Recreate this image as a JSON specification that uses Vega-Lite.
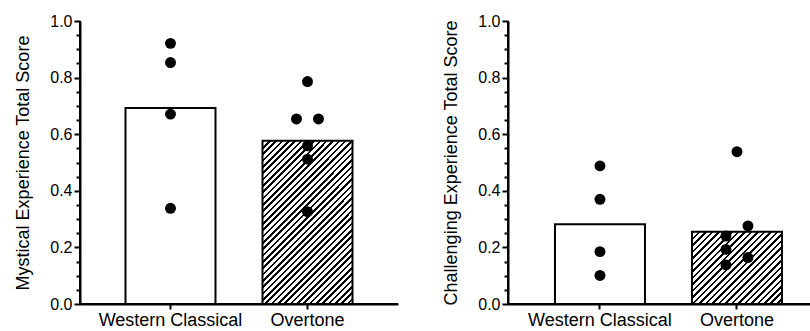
{
  "$schema": "https://vega.github.io/schema/vega-lite/v6.json",
  "background": "white",
  "padding": {"left": 13, "top": 12, "right": 5, "bottom": 0},
  "spacing": 42,
  "config": {
    "font": "Liberation Sans",
    "axis": {"domain": true, "ticks": true, "domainColor": "black", "domainWidth": 2, "tickColor": "black", "tickWidth": 2, "labelColor": "black", "titleColor": "black", "labelFont": "Liberation Sans", "titleFont": "Liberation Sans", "grid": false, "titleFontWeight": "normal"}
  },
  "datasets": {
    "bars": [
      {"panel": "Mystical", "group": "Western Classical", "value": 0.693},
      {"panel": "Mystical", "group": "Overtone", "value": 0.577},
      {"panel": "Challenging", "group": "Western Classical", "value": 0.282},
      {"panel": "Challenging", "group": "Overtone", "value": 0.255}
    ],
    "points": [
      {"panel": "Mystical", "group": "Western Classical", "lane": "C", "value": 0.921},
      {"panel": "Mystical", "group": "Western Classical", "lane": "C", "value": 0.853},
      {"panel": "Mystical", "group": "Western Classical", "lane": "C", "value": 0.671},
      {"panel": "Mystical", "group": "Western Classical", "lane": "C", "value": 0.338},
      {"panel": "Mystical", "group": "Overtone", "lane": "C", "value": 0.786},
      {"panel": "Mystical", "group": "Overtone", "lane": "L", "value": 0.654},
      {"panel": "Mystical", "group": "Overtone", "lane": "R", "value": 0.654},
      {"panel": "Mystical", "group": "Overtone", "lane": "C", "value": 0.559},
      {"panel": "Mystical", "group": "Overtone", "lane": "C", "value": 0.512},
      {"panel": "Mystical", "group": "Overtone", "lane": "C", "value": 0.326},
      {"panel": "Challenging", "group": "Western Classical", "lane": "C", "value": 0.488},
      {"panel": "Challenging", "group": "Western Classical", "lane": "C", "value": 0.370},
      {"panel": "Challenging", "group": "Western Classical", "lane": "C", "value": 0.185},
      {"panel": "Challenging", "group": "Western Classical", "lane": "C", "value": 0.101},
      {"panel": "Challenging", "group": "Overtone", "lane": "C", "value": 0.538},
      {"panel": "Challenging", "group": "Overtone", "lane": "R", "value": 0.276},
      {"panel": "Challenging", "group": "Overtone", "lane": "L", "value": 0.240},
      {"panel": "Challenging", "group": "Overtone", "lane": "L", "value": 0.193},
      {"panel": "Challenging", "group": "Overtone", "lane": "R", "value": 0.164},
      {"panel": "Challenging", "group": "Overtone", "lane": "L", "value": 0.138}
    ]
  },
  "hconcat": [
    {
      "width": 318,
      "height": 283,
      "view": {"stroke": "black", "strokeWidth": 2, "strokeDash": [0, 601, 601, 0], "fill": null},
      "encoding": {
        "x": {"field": "group", "type": "nominal", "scale": {"domain": ["Western Classical", "Overtone"], "paddingInner": 0.343, "paddingOuter": 0.332},
          "axis": {"title": null, "labelAngle": 0, "domain": true, "ticks": true, "domainColor": "black", "domainWidth": 2, "tickColor": "black", "tickWidth": 2, "tickSize": 5, "labelPadding": 2, "labelFontSize": 18, "labelColor": "black", "labelFont": "Liberation Sans", "grid": false}},
        "y": {"field": "value", "type": "quantitative", "scale": {"domain": [0, 1], "nice": false},
          "axis": {"title": "Mystical Experience Total Score", "titleFontSize": 18, "titleFontWeight": "normal", "titleColor": "black", "titleFont": "Liberation Sans", "titlePadding": 17,
            "domain": true, "ticks": true, "domainColor": "black", "domainWidth": 2, "tickColor": "black", "tickWidth": 2, "grid": false,
            "labelFontSize": 16, "labelPadding": 2, "labelColor": "black", "labelFont": "Liberation Sans", "labelFlush": false, "labelOverlap": false,
            "values": [0, 0.05, 0.1, 0.15, 0.2, 0.25, 0.3, 0.35, 0.4, 0.45, 0.5, 0.55, 0.6, 0.65, 0.7, 0.75, 0.8, 0.85, 0.9, 0.95, 1],
            "labelExpr": "abs(datum.value*5-round(datum.value*5))<0.001 ? format(datum.value,'.1f') : ''",
            "tickSize": {"condition": {"test": "abs(datum.value*5-round(datum.value*5))<0.001", "value": 6}, "value": 4}}}
      },
      "layer": [
        {
          "data": {"name": "bars"},
          "transform": [{"filter": "datum.panel === 'Mystical' && datum.group === 'Western Classical'"}],
          "mark": {"type": "bar", "fill": "white", "stroke": "black", "strokeWidth": 2, "size": 90, "opacity": 1}
        },
        {
          "data": {"name": "bars"},
          "transform": [{"filter": "datum.panel === 'Mystical' && datum.group === 'Overtone'"}],
          "mark": {"type": "bar", "stroke": "black", "strokeWidth": 2, "size": 90, "opacity": 1,
            "fill": {"gradient": "linear", "x1": 0, "y1": 0, "x2": 0.6568, "y2": 1.1895, "stops": [
              {"offset": 0, "color": "#000"}, {"offset": 0.01, "color": "#000"}, {"offset": 0.01, "color": "#fff"}, {"offset": 0.025, "color": "#fff"},
              {"offset": 0.025, "color": "#000"}, {"offset": 0.035, "color": "#000"}, {"offset": 0.035, "color": "#fff"}, {"offset": 0.05, "color": "#fff"},
              {"offset": 0.05, "color": "#000"}, {"offset": 0.06, "color": "#000"}, {"offset": 0.06, "color": "#fff"}, {"offset": 0.075, "color": "#fff"},
              {"offset": 0.075, "color": "#000"}, {"offset": 0.085, "color": "#000"}, {"offset": 0.085, "color": "#fff"}, {"offset": 0.1, "color": "#fff"},
              {"offset": 0.1, "color": "#000"}, {"offset": 0.11, "color": "#000"}, {"offset": 0.11, "color": "#fff"}, {"offset": 0.125, "color": "#fff"},
              {"offset": 0.125, "color": "#000"}, {"offset": 0.135, "color": "#000"}, {"offset": 0.135, "color": "#fff"}, {"offset": 0.15, "color": "#fff"},
              {"offset": 0.15, "color": "#000"}, {"offset": 0.16, "color": "#000"}, {"offset": 0.16, "color": "#fff"}, {"offset": 0.175, "color": "#fff"},
              {"offset": 0.175, "color": "#000"}, {"offset": 0.185, "color": "#000"}, {"offset": 0.185, "color": "#fff"}, {"offset": 0.2, "color": "#fff"},
              {"offset": 0.2, "color": "#000"}, {"offset": 0.21, "color": "#000"}, {"offset": 0.21, "color": "#fff"}, {"offset": 0.225, "color": "#fff"},
              {"offset": 0.225, "color": "#000"}, {"offset": 0.235, "color": "#000"}, {"offset": 0.235, "color": "#fff"}, {"offset": 0.25, "color": "#fff"},
              {"offset": 0.25, "color": "#000"}, {"offset": 0.26, "color": "#000"}, {"offset": 0.26, "color": "#fff"}, {"offset": 0.275, "color": "#fff"},
              {"offset": 0.275, "color": "#000"}, {"offset": 0.285, "color": "#000"}, {"offset": 0.285, "color": "#fff"}, {"offset": 0.3, "color": "#fff"},
              {"offset": 0.3, "color": "#000"}, {"offset": 0.31, "color": "#000"}, {"offset": 0.31, "color": "#fff"}, {"offset": 0.325, "color": "#fff"},
              {"offset": 0.325, "color": "#000"}, {"offset": 0.335, "color": "#000"}, {"offset": 0.335, "color": "#fff"}, {"offset": 0.35, "color": "#fff"},
              {"offset": 0.35, "color": "#000"}, {"offset": 0.36, "color": "#000"}, {"offset": 0.36, "color": "#fff"}, {"offset": 0.375, "color": "#fff"},
              {"offset": 0.375, "color": "#000"}, {"offset": 0.385, "color": "#000"}, {"offset": 0.385, "color": "#fff"}, {"offset": 0.4, "color": "#fff"},
              {"offset": 0.4, "color": "#000"}, {"offset": 0.41, "color": "#000"}, {"offset": 0.41, "color": "#fff"}, {"offset": 0.425, "color": "#fff"},
              {"offset": 0.425, "color": "#000"}, {"offset": 0.435, "color": "#000"}, {"offset": 0.435, "color": "#fff"}, {"offset": 0.45, "color": "#fff"},
              {"offset": 0.45, "color": "#000"}, {"offset": 0.46, "color": "#000"}, {"offset": 0.46, "color": "#fff"}, {"offset": 0.475, "color": "#fff"},
              {"offset": 0.475, "color": "#000"}, {"offset": 0.485, "color": "#000"}, {"offset": 0.485, "color": "#fff"}, {"offset": 0.5, "color": "#fff"},
              {"offset": 0.5, "color": "#000"}, {"offset": 0.51, "color": "#000"}, {"offset": 0.51, "color": "#fff"}, {"offset": 0.525, "color": "#fff"},
              {"offset": 0.525, "color": "#000"}, {"offset": 0.535, "color": "#000"}, {"offset": 0.535, "color": "#fff"}, {"offset": 0.55, "color": "#fff"},
              {"offset": 0.55, "color": "#000"}, {"offset": 0.56, "color": "#000"}, {"offset": 0.56, "color": "#fff"}, {"offset": 0.575, "color": "#fff"},
              {"offset": 0.575, "color": "#000"}, {"offset": 0.585, "color": "#000"}, {"offset": 0.585, "color": "#fff"}, {"offset": 0.6, "color": "#fff"},
              {"offset": 0.6, "color": "#000"}, {"offset": 0.61, "color": "#000"}, {"offset": 0.61, "color": "#fff"}, {"offset": 0.625, "color": "#fff"},
              {"offset": 0.625, "color": "#000"}, {"offset": 0.635, "color": "#000"}, {"offset": 0.635, "color": "#fff"}, {"offset": 0.65, "color": "#fff"},
              {"offset": 0.65, "color": "#000"}, {"offset": 0.66, "color": "#000"}, {"offset": 0.66, "color": "#fff"}, {"offset": 0.675, "color": "#fff"},
              {"offset": 0.675, "color": "#000"}, {"offset": 0.685, "color": "#000"}, {"offset": 0.685, "color": "#fff"}, {"offset": 0.7, "color": "#fff"},
              {"offset": 0.7, "color": "#000"}, {"offset": 0.71, "color": "#000"}, {"offset": 0.71, "color": "#fff"}, {"offset": 0.725, "color": "#fff"},
              {"offset": 0.725, "color": "#000"}, {"offset": 0.735, "color": "#000"}, {"offset": 0.735, "color": "#fff"}, {"offset": 0.75, "color": "#fff"},
              {"offset": 0.75, "color": "#000"}, {"offset": 0.76, "color": "#000"}, {"offset": 0.76, "color": "#fff"}, {"offset": 0.775, "color": "#fff"},
              {"offset": 0.775, "color": "#000"}, {"offset": 0.785, "color": "#000"}, {"offset": 0.785, "color": "#fff"}, {"offset": 0.8, "color": "#fff"},
              {"offset": 0.8, "color": "#000"}, {"offset": 0.81, "color": "#000"}, {"offset": 0.81, "color": "#fff"}, {"offset": 0.825, "color": "#fff"},
              {"offset": 0.825, "color": "#000"}, {"offset": 0.835, "color": "#000"}, {"offset": 0.835, "color": "#fff"}, {"offset": 0.85, "color": "#fff"},
              {"offset": 0.85, "color": "#000"}, {"offset": 0.86, "color": "#000"}, {"offset": 0.86, "color": "#fff"}, {"offset": 0.875, "color": "#fff"},
              {"offset": 0.875, "color": "#000"}, {"offset": 0.885, "color": "#000"}, {"offset": 0.885, "color": "#fff"}, {"offset": 0.9, "color": "#fff"},
              {"offset": 0.9, "color": "#000"}, {"offset": 0.91, "color": "#000"}, {"offset": 0.91, "color": "#fff"}, {"offset": 0.925, "color": "#fff"},
              {"offset": 0.925, "color": "#000"}, {"offset": 0.935, "color": "#000"}, {"offset": 0.935, "color": "#fff"}, {"offset": 0.95, "color": "#fff"},
              {"offset": 0.95, "color": "#000"}, {"offset": 0.96, "color": "#000"}, {"offset": 0.96, "color": "#fff"}, {"offset": 0.975, "color": "#fff"},
              {"offset": 0.975, "color": "#000"}, {"offset": 0.985, "color": "#000"}, {"offset": 0.985, "color": "#fff"}, {"offset": 1, "color": "#fff"}
            ]}}
        },
        {
          "data": {"name": "points"},
          "transform": [{"filter": "datum.panel === 'Mystical'"}],
          "mark": {"type": "circle", "size": 120, "color": "black", "opacity": 1},
          "encoding": {
            "xOffset": {"field": "lane", "type": "nominal", "scale": {"type": "point", "domain": ["L", "C", "R"], "range": [34, 56], "padding": 0}}
          }
        }
      ]
    },
    {
      "width": 304,
      "height": 283,
      "view": {"stroke": "black", "strokeWidth": 2, "strokeDash": [0, 587, 587, 0], "fill": null},
      "encoding": {
        "x": {"field": "group", "type": "nominal", "scale": {"domain": ["Western Classical", "Overtone"], "paddingInner": 0.343, "paddingOuter": 0.281, "align": 0.61},
          "axis": {"title": null, "labelAngle": 0, "domain": true, "ticks": true, "domainColor": "black", "domainWidth": 2, "tickColor": "black", "tickWidth": 2, "tickSize": 5, "labelPadding": 2, "labelFontSize": 18, "labelColor": "black", "labelFont": "Liberation Sans", "grid": false}},
        "y": {"field": "value", "type": "quantitative", "scale": {"domain": [0, 1], "nice": false},
          "axis": {"title": "Challenging Experience Total Score", "titleFontSize": 18, "titleFontWeight": "normal", "titleColor": "black", "titleFont": "Liberation Sans", "titlePadding": 17,
            "domain": true, "ticks": true, "domainColor": "black", "domainWidth": 2, "tickColor": "black", "tickWidth": 2, "grid": false,
            "labelFontSize": 16, "labelPadding": 2, "labelColor": "black", "labelFont": "Liberation Sans", "labelFlush": false, "labelOverlap": false,
            "values": [0, 0.05, 0.1, 0.15, 0.2, 0.25, 0.3, 0.35, 0.4, 0.45, 0.5, 0.55, 0.6, 0.65, 0.7, 0.75, 0.8, 0.85, 0.9, 0.95, 1],
            "labelExpr": "abs(datum.value*5-round(datum.value*5))<0.001 ? format(datum.value,'.1f') : ''",
            "tickSize": {"condition": {"test": "abs(datum.value*5-round(datum.value*5))<0.001", "value": 6}, "value": 4}}}
      },
      "layer": [
        {
          "data": {"name": "bars"},
          "transform": [{"filter": "datum.panel === 'Challenging' && datum.group === 'Western Classical'"}],
          "mark": {"type": "bar", "fill": "white", "stroke": "black", "strokeWidth": 2, "size": 90, "opacity": 1}
        },
        {
          "data": {"name": "bars"},
          "transform": [{"filter": "datum.panel === 'Challenging' && datum.group === 'Overtone'"}],
          "mark": {"type": "bar", "stroke": "black", "strokeWidth": 2, "size": 90, "opacity": 1,
            "fill": {"gradient": "linear", "x1": 0, "y1": 0, "x2": 1.0965, "y2": 0.8797, "stops": [
              {"offset": 0, "color": "#000"}, {"offset": 0.016, "color": "#000"}, {"offset": 0.016, "color": "#fff"}, {"offset": 0.04, "color": "#fff"},
              {"offset": 0.04, "color": "#000"}, {"offset": 0.056, "color": "#000"}, {"offset": 0.056, "color": "#fff"}, {"offset": 0.08, "color": "#fff"},
              {"offset": 0.08, "color": "#000"}, {"offset": 0.096, "color": "#000"}, {"offset": 0.096, "color": "#fff"}, {"offset": 0.12, "color": "#fff"},
              {"offset": 0.12, "color": "#000"}, {"offset": 0.136, "color": "#000"}, {"offset": 0.136, "color": "#fff"}, {"offset": 0.16, "color": "#fff"},
              {"offset": 0.16, "color": "#000"}, {"offset": 0.176, "color": "#000"}, {"offset": 0.176, "color": "#fff"}, {"offset": 0.2, "color": "#fff"},
              {"offset": 0.2, "color": "#000"}, {"offset": 0.216, "color": "#000"}, {"offset": 0.216, "color": "#fff"}, {"offset": 0.24, "color": "#fff"},
              {"offset": 0.24, "color": "#000"}, {"offset": 0.256, "color": "#000"}, {"offset": 0.256, "color": "#fff"}, {"offset": 0.28, "color": "#fff"},
              {"offset": 0.28, "color": "#000"}, {"offset": 0.296, "color": "#000"}, {"offset": 0.296, "color": "#fff"}, {"offset": 0.32, "color": "#fff"},
              {"offset": 0.32, "color": "#000"}, {"offset": 0.336, "color": "#000"}, {"offset": 0.336, "color": "#fff"}, {"offset": 0.36, "color": "#fff"},
              {"offset": 0.36, "color": "#000"}, {"offset": 0.376, "color": "#000"}, {"offset": 0.376, "color": "#fff"}, {"offset": 0.4, "color": "#fff"},
              {"offset": 0.4, "color": "#000"}, {"offset": 0.416, "color": "#000"}, {"offset": 0.416, "color": "#fff"}, {"offset": 0.44, "color": "#fff"},
              {"offset": 0.44, "color": "#000"}, {"offset": 0.456, "color": "#000"}, {"offset": 0.456, "color": "#fff"}, {"offset": 0.48, "color": "#fff"},
              {"offset": 0.48, "color": "#000"}, {"offset": 0.496, "color": "#000"}, {"offset": 0.496, "color": "#fff"}, {"offset": 0.52, "color": "#fff"},
              {"offset": 0.52, "color": "#000"}, {"offset": 0.536, "color": "#000"}, {"offset": 0.536, "color": "#fff"}, {"offset": 0.56, "color": "#fff"},
              {"offset": 0.56, "color": "#000"}, {"offset": 0.576, "color": "#000"}, {"offset": 0.576, "color": "#fff"}, {"offset": 0.6, "color": "#fff"},
              {"offset": 0.6, "color": "#000"}, {"offset": 0.616, "color": "#000"}, {"offset": 0.616, "color": "#fff"}, {"offset": 0.64, "color": "#fff"},
              {"offset": 0.64, "color": "#000"}, {"offset": 0.656, "color": "#000"}, {"offset": 0.656, "color": "#fff"}, {"offset": 0.68, "color": "#fff"},
              {"offset": 0.68, "color": "#000"}, {"offset": 0.696, "color": "#000"}, {"offset": 0.696, "color": "#fff"}, {"offset": 0.72, "color": "#fff"},
              {"offset": 0.72, "color": "#000"}, {"offset": 0.736, "color": "#000"}, {"offset": 0.736, "color": "#fff"}, {"offset": 0.76, "color": "#fff"},
              {"offset": 0.76, "color": "#000"}, {"offset": 0.776, "color": "#000"}, {"offset": 0.776, "color": "#fff"}, {"offset": 0.8, "color": "#fff"},
              {"offset": 0.8, "color": "#000"}, {"offset": 0.816, "color": "#000"}, {"offset": 0.816, "color": "#fff"}, {"offset": 0.84, "color": "#fff"},
              {"offset": 0.84, "color": "#000"}, {"offset": 0.856, "color": "#000"}, {"offset": 0.856, "color": "#fff"}, {"offset": 0.88, "color": "#fff"},
              {"offset": 0.88, "color": "#000"}, {"offset": 0.896, "color": "#000"}, {"offset": 0.896, "color": "#fff"}, {"offset": 0.92, "color": "#fff"},
              {"offset": 0.92, "color": "#000"}, {"offset": 0.936, "color": "#000"}, {"offset": 0.936, "color": "#fff"}, {"offset": 0.96, "color": "#fff"},
              {"offset": 0.96, "color": "#000"}, {"offset": 0.976, "color": "#000"}, {"offset": 0.976, "color": "#fff"}, {"offset": 1, "color": "#fff"}
            ]}}
        },
        {
          "data": {"name": "points"},
          "transform": [{"filter": "datum.panel === 'Challenging'"}],
          "mark": {"type": "circle", "size": 120, "color": "black", "opacity": 1},
          "encoding": {
            "xOffset": {"field": "lane", "type": "nominal", "scale": {"type": "point", "domain": ["L", "C", "R"], "range": [34, 56], "padding": 0}}
          }
        }
      ]
    }
  ]
}
